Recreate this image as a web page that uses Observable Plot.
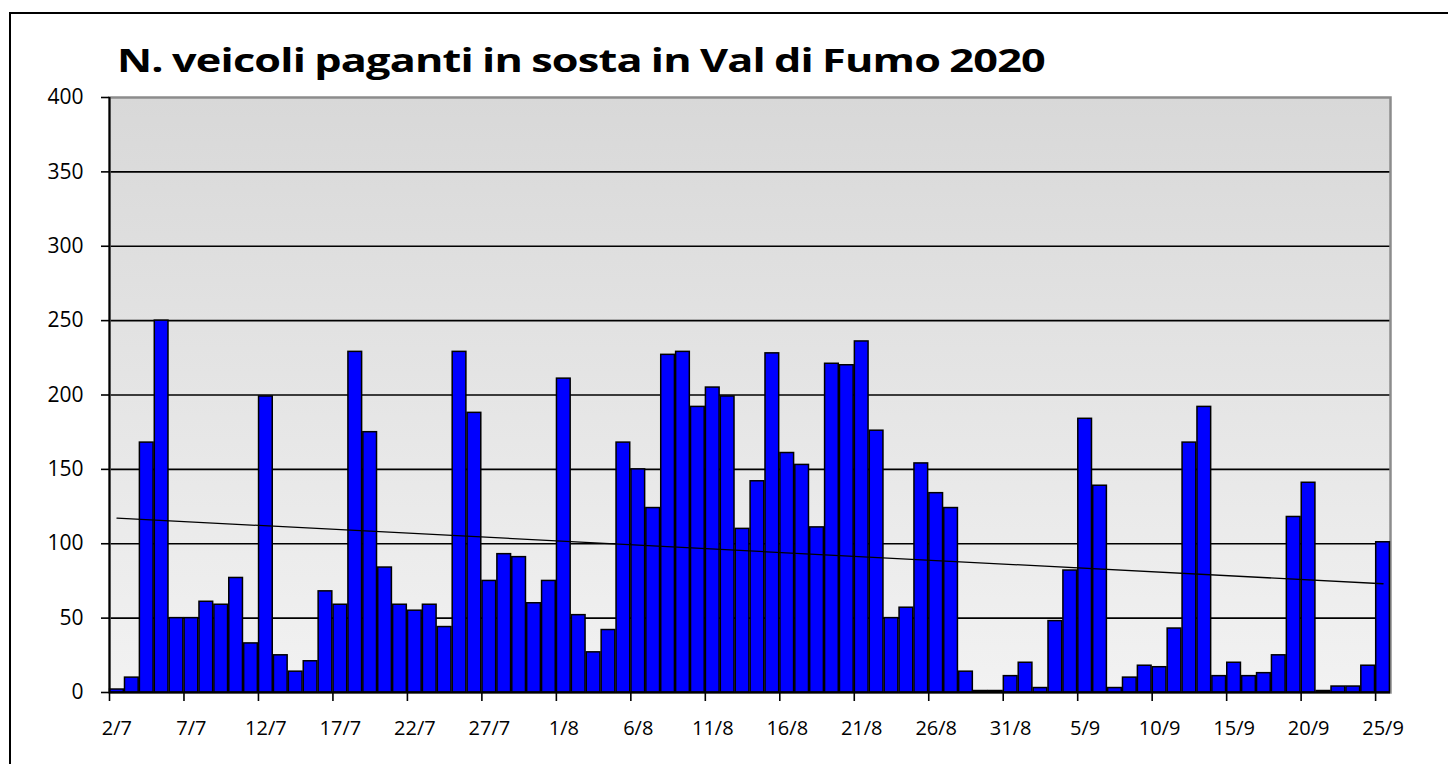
<!DOCTYPE html>
<html><head><meta charset="utf-8">
<script src="https://cdn.jsdelivr.net/npm/d3@7"></script>
<script src="https://cdn.jsdelivr.net/npm/@observablehq/plot@0.6"></script>
<style>
body{margin:0;background:#fff;width:1448px;height:764px;overflow:hidden;position:relative;font-family:"Open Sans",sans-serif}
#border{position:absolute;left:9px;top:12px;width:1450px;height:760px;border:2px solid #000;box-sizing:border-box}
#title{position:absolute;left:117px;top:37px;white-space:nowrap;font-family:"Open Sans",sans-serif;font-weight:bold;font-size:32.5px;letter-spacing:-0.6px;word-spacing:-1px;line-height:normal;color:#000;transform-origin:0 0;display:inline-block}
#chart{position:absolute;left:0;top:0}
</style></head><body>
<div id="border"></div>
<div id="chart"></div>
<div id="title">N. veicoli paganti in sosta in Val di Fumo 2020</div>
<script>
const days = [
  "2/7","3/7","4/7","5/7","6/7","7/7","8/7","9/7","10/7","11/7","12/7","13/7","14/7","15/7","16/7",
  "17/7","18/7","19/7","20/7","21/7","22/7","23/7","24/7","25/7","26/7","27/7","28/7","29/7","30/7","31/7",
  "1/8","2/8","3/8","4/8","5/8","6/8","7/8","8/8","9/8","10/8","11/8","12/8","13/8","14/8","15/8",
  "16/8","17/8","18/8","19/8","20/8","21/8","22/8","23/8","24/8","25/8","26/8","27/8","28/8","29/8","30/8","31/8",
  "1/9","2/9","3/9","4/9","5/9","6/9","7/9","8/9","9/9","10/9","11/9","12/9","13/9","14/9","15/9",
  "16/9","17/9","18/9","19/9","20/9","21/9","22/9","23/9","24/9","25/9"
];
const vehicles = [
  2, 10, 168, 250, 50, 50, 61, 59, 77, 33, 199, 25, 14, 21, 68,
  59, 229, 175, 84, 59, 55, 59, 44, 229, 188, 75, 93, 91, 60, 75,
  211, 52, 27, 42, 168, 150, 124, 227, 229, 192, 205, 199, 110, 142, 228,
  161, 153, 111, 221, 220, 236, 176, 50, 57, 154, 134, 124, 14, 1, 1, 11,
  20, 3, 48, 82, 184, 139, 3, 10, 18, 17, 43, 168, 192, 11, 20,
  11, 13, 25, 118, 141, 1, 4, 4, 18, 101
];
const yTicks = [0, 50, 100, 150, 200, 250, 300, 350, 400];
const labelStep = 5;

const rows = days.map((d, i) => ({i, day: d, v: vehicles[i]}));

// least-squares trend line (as in the spreadsheet's linear trendline)
const n = rows.length;
const mx = d3.mean(rows, d => d.i), my = d3.mean(rows, d => d.v);
const slope = d3.sum(rows, d => (d.i - mx) * (d.v - my)) / d3.sum(rows, d => (d.i - mx) ** 2);
const icpt = my - slope * mx;
const trend = [0, n - 1].map(i => ({x: i + 0.5, y: icpt + slope * i}));

const tickIdx = d3.range(0, n, labelStep);

const plot = Plot.plot({
  width: 1448, height: 764,
  marginLeft: 109, marginRight: 58, marginTop: 97, marginBottom: 72,
  style: {background: "transparent", fontFamily: "'Open Sans', sans-serif", fontSize: "21px", color: "#000"},
  x: {domain: [0, n]},
  y: {domain: [0, 400]},
  marks: [
    Plot.frame({fill: "url(#bg)", stroke: null}),
    Plot.ruleY(yTicks.filter(t => t > 0 && t < 400), {stroke: "#000", strokeWidth: 1.6}),
    Plot.frame({stroke: "#8c8c8c", strokeWidth: 2.5, fill: "none"}),
    Plot.rectY(rows, {x1: "i", x2: d => d.i + 1, y: "v", fill: "#0000ff", stroke: "#000", strokeWidth: 1.5, insetLeft: 0.6, insetRight: 0.6}),
    Plot.ruleY([0], {stroke: "#000", strokeWidth: 2}),
    Plot.ruleX([0], {stroke: "#000", strokeWidth: 2}),
    Plot.line(trend, {x: "x", y: "y", stroke: "#000", strokeWidth: 1.3}),
    Plot.axisY({ticks: yTicks, tickSize: 8, tickPadding: 18, fontSize: 21, strokeWidth: 1.6, label: null}),
    Plot.axisX({ticks: tickIdx, tickSize: 9, strokeWidth: 1.6, tickFormat: () => "", label: null}),
    Plot.axisX({ticks: tickIdx.map(i => i + 0.5), tickSize: 0, tickPadding: 28, fontSize: 20, tickFormat: t => days[Math.round(t - 0.5)], label: null})
  ]
});

const defs = d3.select(plot).insert("defs", ":first-child");
const grad = defs.append("linearGradient").attr("id", "bg").attr("x1", 0).attr("y1", 0).attr("x2", 0).attr("y2", 1);
grad.append("stop").attr("offset", 0).attr("stop-color", "#d8d8d8");
grad.append("stop").attr("offset", 1).attr("stop-color", "#f2f2f2");

document.getElementById("chart").appendChild(plot);

// stretch the title to the reference's span
const title = document.getElementById("title");
const w = title.getBoundingClientRect().width;
title.style.transform = `scaleX(${928 / w})`;
</script>
</body></html>
